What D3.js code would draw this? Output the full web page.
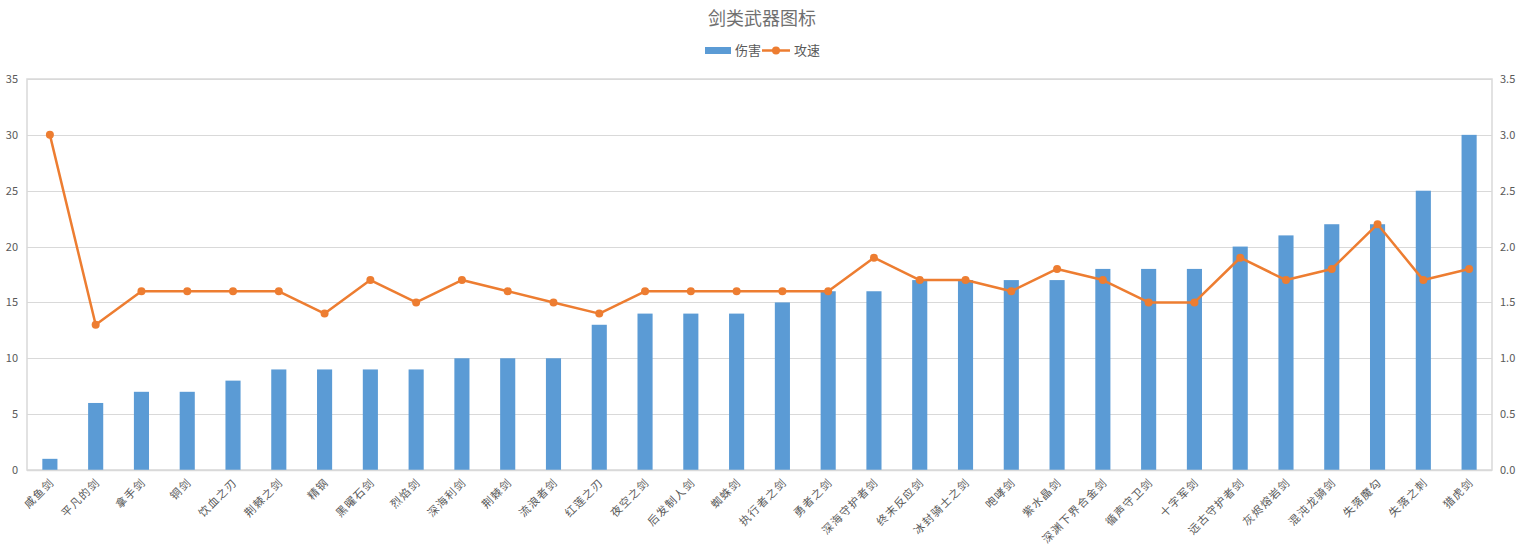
<!DOCTYPE html>
<html><head><meta charset="utf-8">
<script src="https://cdn.jsdelivr.net/npm/d3@7"></script>
<style>body{margin:0;background:#fff;} text{font-family:"Noto Sans CJK SC","Noto Sans",sans-serif;}</style>
</head><body><svg id="c" width="1523" height="550"></svg>
<script>
const categories = ["咸鱼剑","平凡的剑","拿手剑","铜剑","饮血之刃","荆棘之剑","精钢","黑曜石剑","烈焰剑","深海利剑","荆棘剑","流浪者剑","红莲之刃","夜空之剑","后发制人剑","蜘蛛剑","执行者之剑","勇者之剑","深海守护者剑","终末反应剑","冰封骑士之剑","咆哮剑","紫水晶剑","深渊下界合金剑","循声守卫剑","十字军剑","远古守护者剑","灰烬熔岩剑","混沌龙骑剑","失落魔勾","失落之刺","猎虎剑"];
const damage = [1,6,7,7,8,9,9,9,9,10,10,10,13,14,14,14,15,16,16,17,17,17,17,18,18,18,20,21,22,22,25,30];
const speed = [3.0,1.3,1.6,1.6,1.6,1.6,1.4,1.7,1.5,1.7,1.6,1.5,1.4,1.6,1.6,1.6,1.6,1.6,1.9,1.7,1.7,1.6,1.8,1.7,1.5,1.5,1.9,1.7,1.8,2.2,1.7,1.8];
const leftTicks = [0,5,10,15,20,25,30,35];
const rightTicks = [0,0.5,1,1.5,2,2.5,3,3.5];
const seriesNames = ["伤害","攻速"];
const title = "剑类武器图标";

const svg = d3.select("#c");
const L = 27, R = 1492, T = 79, B = 470;
const x = d3.scaleBand().domain(categories).range([L, R]).paddingInner(0.67).paddingOuter(0.335);
const xc = d3.scaleBand().domain(categories).range([L, R]);
const yL = d3.scaleLinear().domain([0,35]).range([B, T]);
const yR = d3.scaleLinear().domain([0,3.5]).range([B, T]);
const txt = "#595959";

svg.append("rect").attr("x",L).attr("y",T).attr("width",R-L).attr("height",B-T)
  .attr("fill","none").attr("stroke","#d9d9d9").attr("stroke-width",1.5);

svg.append("g").selectAll("line").data(leftTicks).join("line")
  .attr("x1",L).attr("x2",R).attr("y1",d=>Math.round(yL(d))+0.5).attr("y2",d=>Math.round(yL(d))+0.5)
  .attr("stroke","#d9d9d9").attr("stroke-width",1);

const gl = svg.append("g").attr("transform",`translate(${L},0)`)
  .call(d3.axisLeft(yL).tickValues(leftTicks).tickSize(0).tickPadding(9).tickFormat(d3.format("d")));
gl.select(".domain").remove();
gl.selectAll("text").attr("fill",txt).attr("font-size",11).attr("font-family","'Noto Sans',sans-serif");

const gr = svg.append("g").attr("transform",`translate(${R},0)`)
  .call(d3.axisRight(yR).tickValues(rightTicks).tickSize(0).tickPadding(8).tickFormat(d3.format(".1f")));
gr.select(".domain").remove();
gr.selectAll("text").attr("fill",txt).attr("font-size",11).attr("font-family","'Noto Sans',sans-serif");

svg.append("g").selectAll("rect").data(categories).join("rect")
  .attr("x",d=>x(d)).attr("width",x.bandwidth())
  .attr("y",(d,i)=>yL(damage[i])).attr("height",(d,i)=>B-yL(damage[i]))
  .attr("fill","#5B9BD5");

svg.append("line").attr("x1",L).attr("x2",R).attr("y1",B+0.5).attr("y2",B+0.5).attr("stroke","#d9d9d9").attr("stroke-width",1.5);

const line = d3.line().x((d,i)=>xc(categories[i])+xc.bandwidth()/2).y(d=>yR(d));
svg.append("path").datum(speed).attr("d",line).attr("fill","none").attr("stroke","#ED7D31").attr("stroke-width",2.5).attr("stroke-linejoin","round");
svg.append("g").selectAll("circle").data(speed).join("circle")
  .attr("cx",(d,i)=>xc(categories[i])+xc.bandwidth()/2).attr("cy",d=>yR(d)).attr("r",4).attr("fill","#ED7D31");

svg.append("g").selectAll("text").data(categories).join("text")
  .attr("transform",d=>`translate(${xc(d)+xc.bandwidth()/2+5},${B+13}) rotate(-45)`)
  .attr("text-anchor","end").attr("font-size",11).attr("letter-spacing","1.3px").attr("fill",txt).text(d=>d);

svg.append("text").attr("x",762).attr("y",25).attr("text-anchor","middle").attr("font-size",18).attr("fill","#707070")
  .attr("font-family","'Noto Sans CJK SC',serif").text(title);

const lg = svg.append("g");
lg.append("rect").attr("x",705).attr("y",47).attr("width",26).attr("height",7).attr("fill","#5B9BD5");
lg.append("text").attr("x",735).attr("y",55).attr("font-size",13).attr("fill",txt).text(seriesNames[0]);
lg.append("line").attr("x1",762).attr("x2",790).attr("y1",50.5).attr("y2",50.5).attr("stroke","#ED7D31").attr("stroke-width",2.5);
lg.append("circle").attr("cx",776).attr("cy",50.5).attr("r",4).attr("fill","#ED7D31");
lg.append("text").attr("x",794).attr("y",55).attr("font-size",13).attr("fill",txt).text(seriesNames[1]);
</script></body></html>
